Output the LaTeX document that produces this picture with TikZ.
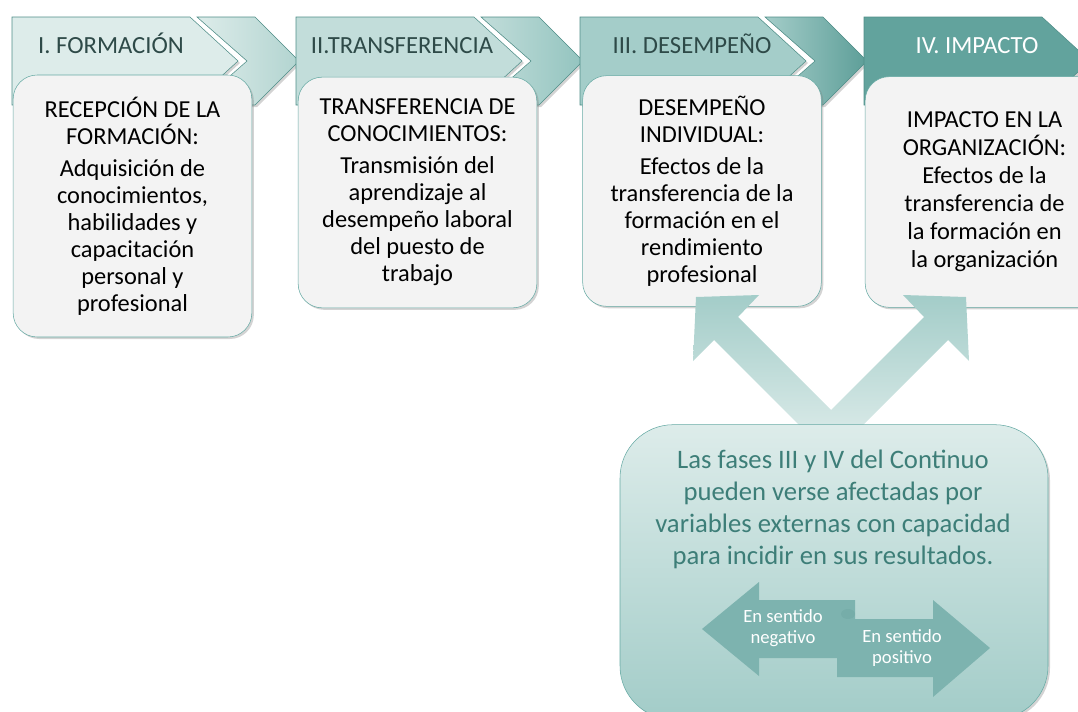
\documentclass[tikz,border=0pt]{standalone}
\usepackage{fontspec}
\setmainfont{Carlito}
\usetikzlibrary{shadows,calc,positioning}
\definecolor{tealline}{HTML}{4F8E88}
\definecolor{bodyline}{HTML}{66AAA4}
\definecolor{bodyfill}{HTML}{F3F3F3}
\definecolor{head1}{HTML}{DDECEA}
\definecolor{head2}{HTML}{C2DDDA}
\definecolor{head3}{HTML}{A4CDC9}
\definecolor{head4}{HTML}{62A39D}
\definecolor{chev1}{HTML}{B2D4D0}
\definecolor{chev2}{HTML}{93C4BF}
\definecolor{chev3}{HTML}{5D9E98}
\definecolor{headtext}{HTML}{2E4A48}
\definecolor{notetext}{HTML}{3D7E78}
\definecolor{arrowfill}{HTML}{7DB3AF}
\def\headfont{\fontsize{18.5}{22}\selectfont}
\def\bodyfont{\fontsize{18.3}{20.25}\selectfont}

\begin{document}
\begin{tikzpicture}[x=0.75pt,y=-0.75pt,
  shad/.style={drop shadow={shadow xshift=1.5pt,shadow yshift=-1.5pt,opacity=.35}},
  body/.style={draw=bodyline, fill=bodyfill, rounded corners=18pt, shad,
    minimum width=179pt, minimum height=173pt, inner sep=0pt, align=center, font=\bodyfont},
  label/.style={font=\headfont, text=headtext, anchor=base}]
\path[use as bounding box, clip] (0,0) rectangle (1078,711);
\foreach \x/\a/\b in {12/head1/chev1,296/head2/chev2,580/head3/chev3}
  \shadedraw[left color=\a, right color=\b, draw=tealline, shad] (\x+185,17) -- (\x+243,17) -- (\x+287,61) -- (\x+243,105) -- (\x+185,105) -- (\x+235,61) -- cycle;
\foreach \x/\c in {12/head1,296/head2,580/head3,864/head4}
  \draw[tealline, fill=\c, shad] (\x,17) -- ++(178,0) -- ++(48,44) -- ++(-48,44) -- ++(-178,0) -- cycle;
\node[label] (t1) at (111,53) {I. FORMACIÓN};
\node[label] (t2) at (402,53) {II.TRANSFERENCIA};
\node[label] (t3) at (692,53) {III. DESEMPEÑO};
\node[label, text=white] (t4) at (977,53) {IV. IMPACTO};
\node[body, minimum height=196.5pt] (b1) at (132.5,206) {RECEPCIÓN DE LA\\FORMACIÓN:\\[4pt]Adquisición de\\conocimientos,\\habilidades y\\capacitación\\personal y\\profesional};
\node[body] (b2) at (417.5,192.5) {TRANSFERENCIA DE\\CONOCIMIENTOS:\\[4pt]Transmisión del\\aprendizaje al\\desempeño laboral\\del puesto de\\trabajo};
\node[body] (b3) at (702,191) {DESEMPEÑO\\INDIVIDUAL:\\[4pt]Efectos de la\\transferencia de la\\formación en el\\rendimiento\\profesional};
\node[body, font=\fontsize{18.3}{21}\selectfont] (b4) at (984.5,192) {IMPACTO EN LA\\ORGANIZACIÓN:\\Efectos de la\\transferencia de\\la formación en\\la organización};
\coordinate (fork) at (831,425);
\begin{scope}[shift={(fork)}]
\shade[top color=head3!95!chev2, bottom color=head1!70!head2] (-32,0) -- (-117,-85) -- (-138,-64) -- (-135,-128) -- (-72,-130) -- (-93,-108) -- (0,-15)
  -- (93,-108) -- (72,-130) -- (135,-128) -- (138,-64) -- (117,-85) -- (32,0) -- cycle;
\end{scope}
\node[draw=bodyline, top color=head1, bottom color=head3!90!chev2, rounded corners=40pt, shad,
  minimum width=321pt, minimum height=221pt] (box) at (834,572) {};
\node[font=\fontsize{20}{24}\selectfont, text=notetext, align=center] (note) at (833,509.5) {Las fases III y IV del Continuo\\pueden verse afectadas por\\variables externas con capacidad\\para incidir en sus resultados.};
\fill[arrowfill] (702,629) -- (759,582) -- (759,600) -- (855,600) -- (855,658) -- (759,658) -- (759,676) -- cycle;
\fill[arrowfill!85!tealline] (848,614) ellipse (7 and 5);
\fill[arrowfill] (837,619) -- (933,619) -- (933,600) -- (990,648) -- (933,697) -- (933,677) -- (837,677) -- cycle;
\node[font=\fontsize{14}{15.75}\selectfont, text=white, align=center] (neg) at (783,628) {En sentido\\negativo};
\node[font=\fontsize{14}{15.75}\selectfont, text=white, align=center] (pos) at (902,648) {En sentido\\positivo};
\end{tikzpicture}
\end{document}
